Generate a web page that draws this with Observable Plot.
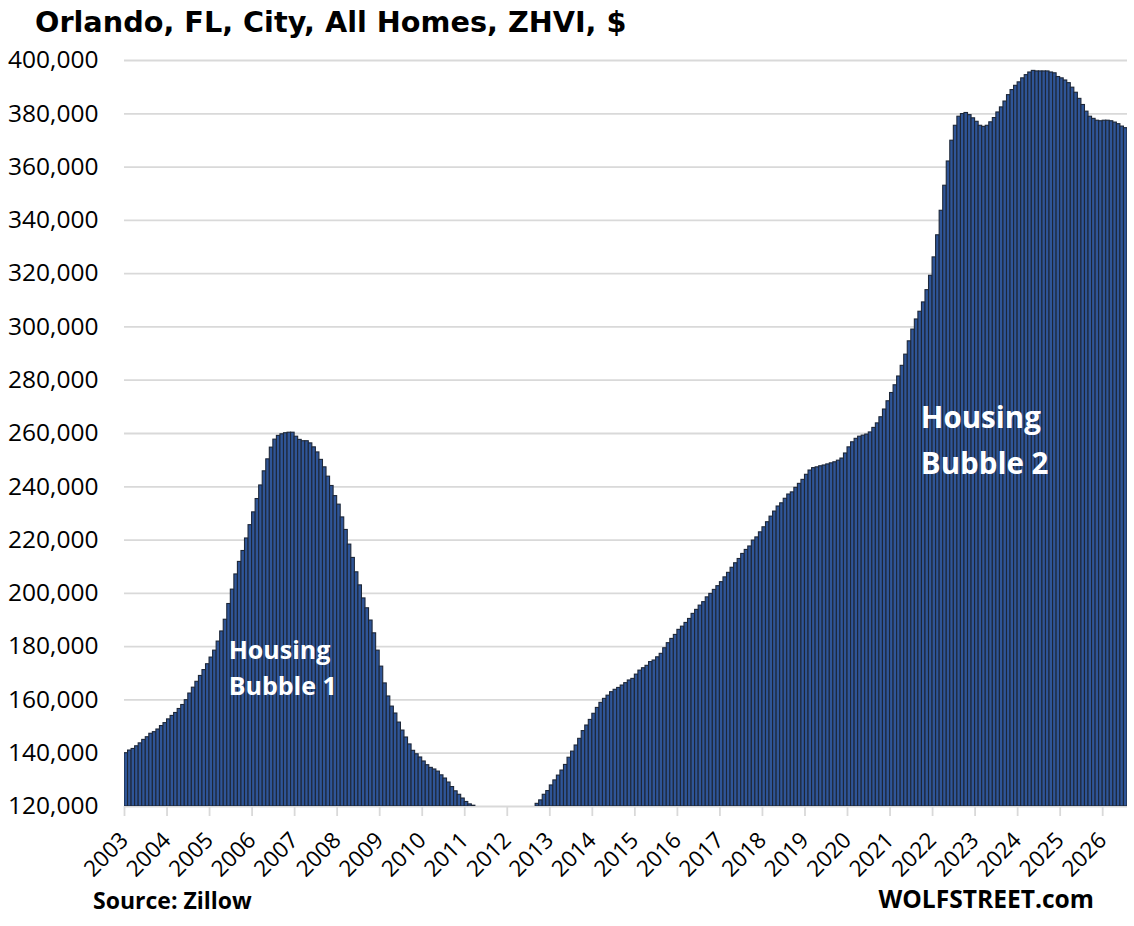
<!DOCTYPE html>
<html>
<head>
<meta charset="utf-8">
<script src="https://cdn.jsdelivr.net/npm/d3@7"></script>
<script src="https://cdn.jsdelivr.net/npm/@observablehq/plot@0.6"></script>
<style>
html, body { margin: 0; padding: 0; background: #fff; }
body { width: 1134px; height: 926px; position: relative; overflow: hidden; font-family: "Open Sans", sans-serif; color: #000; }
#title { position: absolute; left: 35px; top: 8px; font: bold 28.7px/28.7px "DejaVu Sans", sans-serif; white-space: nowrap; }
#chart { position: absolute; left: 0; top: 46px; }
#source { position: absolute; left: 93px; top: 889px; font: bold 23px/23px "Open Sans", sans-serif; white-space: nowrap; }
#brand { position: absolute; right: 40px; top: 887px; font: bold 24.6px/24.6px "Open Sans", sans-serif; white-space: nowrap; }
</style>
</head>
<body>
<div id="title">Orlando, FL, City, All Homes, ZHVI, $</div>
<div id="chart"></div>
<div id="source">Source: Zillow</div>
<div id="brand">WOLFSTREET.com</div>
<script>
// Year labels (one every 12 monthly bars, starting Jan 2003)
const yearLabels = ["2003","2004","2005","2006","2007","2008","2009","2010","2011","2012","2013","2014",
  "2015","2016","2017","2018","2019","2020","2021","2022","2023","2024","2025","2026"];

// Monthly ZHVI, thousands of $
const zhvi2003to2011 = [
  140.0,141.0,141.6,142.6,143.7,145.0,146.0,147.3,147.9,148.9,150.2,151.3,
  152.7,154.0,155.1,156.6,158.1,159.9,162.4,164.6,166.8,169.0,171.2,173.4,
  175.9,178.5,181.9,185.7,190.1,196.0,201.4,207.1,211.8,215.9,220.6,225.6,
  230.4,235.4,240.5,245.8,250.3,254.7,257.7,259.1,259.7,260.1,260.3,260.3,
  258.8,257.6,257.1,257.1,256.3,254.8,252.9,250.1,247.3,243.8,240.3,236.5,
  233.3,228.5,223.8,218.3,213.3,207.9,203.0,198.1,194.4,189.8,185.0,178.5,
  172.5,166.2,161.3,157.5,154.9,151.5,148.5,145.9,143.3,140.9,139.6,138.4,
  136.9,135.5,134.5,133.9,133.1,131.7,130.5,129.0,127.3,125.7,124.4,123.0,
  121.7,120.8,120.3
];
// Below the 120,000 floor of the axis (not visible in the chart)
const zhvi2011to2012 = [
  119.6,119.0,118.5,118.0,117.6,117.3,117.0,116.8,116.7,116.7,116.8,117.0,
  117.4,117.9,118.5,119.2,119.8
];
const zhvi2012to2026 = [
  121.0,122.3,124.4,125.8,127.9,129.8,131.6,133.5,135.6,138.3,140.6,142.9,
  145.4,148.3,150.4,152.5,154.8,157.0,158.9,160.4,161.6,162.9,163.8,164.5,
  165.4,166.3,167.3,167.9,169.5,171.0,171.9,172.8,174.2,174.8,176.0,177.3,
  179.4,181.3,182.9,184.4,186.3,187.5,188.9,190.4,192.3,193.8,195.4,196.7,
  198.5,199.8,201.3,202.7,204.2,206.0,207.7,209.6,211.3,212.9,214.8,216.3,
  217.6,219.8,221.0,222.9,224.8,226.7,228.8,230.7,232.6,233.8,235.5,237.1,
  237.9,239.6,241.1,242.6,244.5,246.1,247.0,247.3,247.7,248.0,248.4,248.8,
  249.2,249.8,250.6,252.5,254.8,256.7,258.0,258.8,259.2,259.6,260.4,262.1,
  263.8,266.1,269.0,272.1,275.2,278.1,281.4,285.4,289.6,294.6,299.0,302.8,
  305.7,309.2,313.8,319.2,326.1,334.4,343.6,353.0,362.1,369.9,375.5,378.9,
  379.9,380.3,379.5,378.3,377.0,375.5,375.1,375.5,376.8,378.4,380.5,382.4,
  384.6,387.0,388.9,390.5,391.8,393.3,394.5,395.5,396.1,395.9,395.9,395.9,
  395.9,395.5,395.2,393.8,393.3,392.5,391.5,389.8,387.9,385.6,383.3,380.8,
  378.9,378.1,377.4,377.2,377.4,377.4,377.2,376.7,376.1,375.2,374.6
];
const yTicks = [120000,140000,160000,180000,200000,220000,240000,260000,280000,300000,320000,340000,360000,380000,400000];

const zhvi = zhvi2003to2011.concat(zhvi2011to2012, zhvi2012to2026);
const yMin = yTicks[0], yMax = yTicks[yTicks.length - 1];
const rows = zhvi.map((v, i) => ({i, j: i + 1, v: v * 1000}));
const xTicks = yearLabels.map((_, k) => k * 12);

const chart = Plot.plot({
  width: 1134,
  height: 850,
  marginLeft: 124,
  marginRight: 7,
  marginTop: 14,
  marginBottom: 90,
  style: {fontFamily: "'Open Sans', sans-serif", fontSize: "24px", color: "#000", background: "#fff", overflow: "visible"},
  x: {type: "linear", domain: [0, zhvi.length], axis: null},
  y: {domain: [yMin, yMax], axis: null},
  marks: [
    Plot.gridY(yTicks, {stroke: "#d9d9d9", strokeWidth: 1.8, strokeOpacity: 1}),
    Plot.rectY(rows, {filter: d => d.v > yMin, x1: "i", x2: "j", y1: yMin, y2: "v",
      fill: "#2f5597", stroke: "#1d2738", strokeWidth: 1.1, clip: true}),
    Plot.axisY(yTicks, {tickSize: 0, tickPadding: 26, tickFormat: d3.format(","), fontSize: 24.5, label: null}),
    Plot.axisX(xTicks, {tickSize: 10, stroke: "#d9d9d9", strokeWidth: 1.8, tickRotate: -45, tickPadding: 20,
      tickFormat: i => yearLabels[i / 12], fontSize: 22.5, fill: "#000", label: null}),
    Plot.text(["Housing\nBubble 1"], {x: 29.4, y: 172900, text: d => d, textAnchor: "start", lineAnchor: "middle",
      fill: "#fff", fontWeight: "bold", fontSize: 25, lineHeight: 1.45}),
    Plot.text(["Housing\nBubble 2"], {x: 224.7, y: 259000, text: d => d, textAnchor: "start", lineAnchor: "middle",
      fill: "#fff", fontWeight: "bold", fontSize: 29.5, lineHeight: 1.56})
  ]
});
document.getElementById("chart").appendChild(chart);
</script>
</body>
</html>
